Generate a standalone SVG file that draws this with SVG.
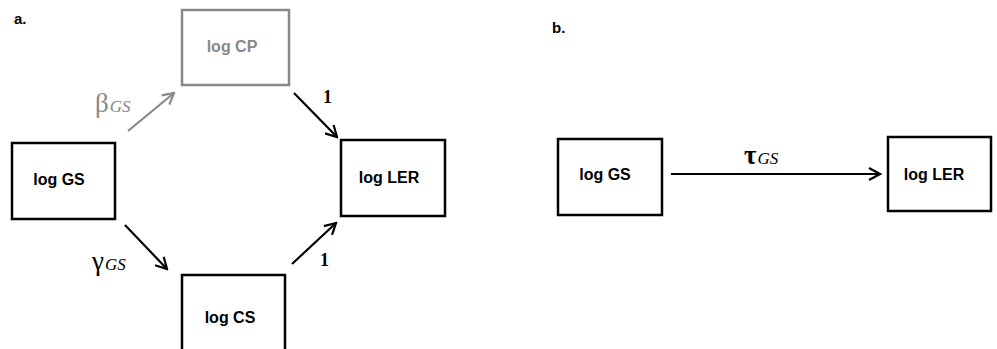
<svg xmlns="http://www.w3.org/2000/svg" width="997" height="349" viewBox="0 0 997 349">
<style>
.box{fill:#fff;stroke:#000;stroke-width:2.5}
.gbox{fill:#fff;stroke:#888;stroke-width:2.5}
.lbl{font-family:"Liberation Sans",Arial,sans-serif;font-weight:bold;font-size:16px;fill:#000}
.glbl{font-family:"Liberation Sans",Arial,sans-serif;font-weight:bold;font-size:16px;fill:#888}
.panel{font-family:"Liberation Sans",Arial,sans-serif;font-weight:bold;font-size:15px;fill:#000}
.greek{font-family:"Liberation Serif","DejaVu Serif",serif;font-size:27px}
.sub{font-family:"Liberation Serif",serif;font-style:italic;font-size:17px}
.one{font-family:"Liberation Serif",serif;font-weight:bold;font-size:18px;fill:#000}
.edge{stroke:#000;stroke-width:2.2;fill:none}
.gedge{stroke:#888;stroke-width:2.2;fill:none}
</style>
<defs>
<marker id="ah" viewBox="0 0 14 14" refX="12" refY="7" markerWidth="14" markerHeight="14" markerUnits="userSpaceOnUse" orient="auto">
<polyline points="1,1 12,7 1,13" fill="none" stroke="#000" stroke-width="2.2"/>
</marker>
<marker id="ahg" viewBox="0 0 14 14" refX="12" refY="7" markerWidth="14" markerHeight="14" markerUnits="userSpaceOnUse" orient="auto">
<polyline points="1,1 12,7 1,13" fill="none" stroke="#888" stroke-width="2.2"/>
</marker>
</defs>
<rect width="997" height="349" fill="#fff"/>
<text class="panel" x="14" y="24">a.</text>
<text class="panel" x="552" y="33">b.</text>
<g id="a-GS"><rect class="box" x="12" y="143" width="103" height="76"/><text class="lbl" x="59" y="185" text-anchor="middle">log GS</text></g>
<g id="a-CP"><rect class="gbox" x="182" y="10" width="107" height="75"/><text class="glbl" x="232" y="52" text-anchor="middle">log CP</text></g>
<g id="a-LER"><rect class="box" x="341" y="140" width="104" height="76"/><text class="lbl" x="389" y="183" text-anchor="middle">log LER</text></g>
<g id="a-CS"><rect class="box" x="182" y="275" width="103" height="80"/><text class="lbl" x="230" y="323" text-anchor="middle">log CS</text></g>
<g id="b-GS"><rect class="box" x="558" y="139" width="104" height="76"/><text class="lbl" x="605" y="180" text-anchor="middle">log GS</text></g>
<g id="b-LER"><rect class="box" x="888" y="137" width="103" height="74"/><text class="lbl" x="934" y="180" text-anchor="middle">log LER</text></g>
<g id="connectors">
<line class="gedge" x1="128" y1="131" x2="174" y2="93" marker-end="url(#ahg)"/>
<line class="edge" x1="294" y1="93" x2="337" y2="137" marker-end="url(#ah)"/>
<line class="edge" x1="125" y1="225" x2="167" y2="269" marker-end="url(#ah)"/>
<line class="edge" x1="292" y1="264" x2="336" y2="223" marker-end="url(#ah)"/>
<line class="edge" x1="671" y1="174" x2="880" y2="174" marker-end="url(#ah)"/>
</g>
<text x="95" y="112" fill="#888"><tspan class="greek">β</tspan><tspan class="sub" dx="1">GS</tspan></text>
<text x="92" y="270" fill="#000"><tspan class="greek">γ</tspan><tspan class="sub" dx="1">GS</tspan></text>
<text x="744" y="164" fill="#000"><tspan class="greek" font-weight="bold">τ</tspan><tspan class="sub" dx="1">GS</tspan></text>
<text class="one" x="323" y="103">1</text>
<text class="one" x="320" y="266">1</text>
</svg>
